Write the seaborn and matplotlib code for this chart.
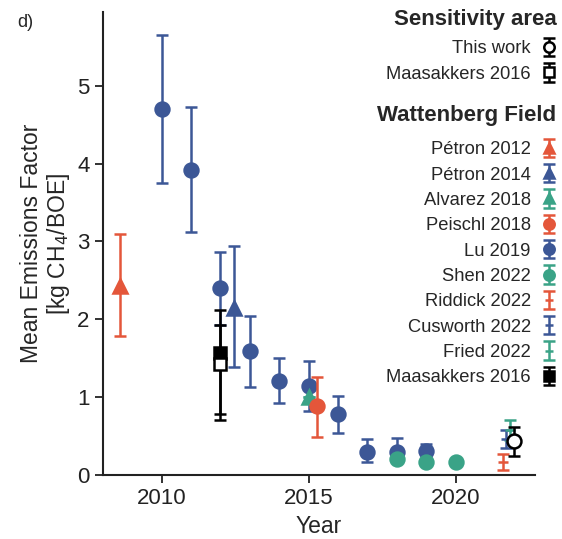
import numpy as np
import matplotlib
matplotlib.use("Agg")
import matplotlib.pyplot as plt
import seaborn as sns

# colours
red = "#E4563A"
blue = "#3C5796"
green = "#3AA387"

# Wattenberg Field: x position, mean, lower, upper
petron12_x = [2008.6]
petron12_y = [2.43]
petron12_lo = [1.78]
petron12_hi = [3.10]

petron14_x = [2012.45]
petron14_y = [2.15]
petron14_lo = [1.39]
petron14_hi = [2.94]

alvarez_x = [2015.0]
alvarez_y = [1.00]
alvarez_lo = [1.00]
alvarez_hi = [1.00]

peischl_x = [2015.3]
peischl_y = [0.88]
peischl_lo = [0.49]
peischl_hi = [1.26]

lu_x = [2010, 2011, 2012, 2013, 2014, 2015, 2016, 2017, 2018, 2019]
lu_y = [4.70, 3.92, 2.40, 1.59, 1.21, 1.14, 0.78, 0.30, 0.30, 0.31]
lu_lo = [3.75, 3.12, 1.92, 1.13, 0.92, 0.82, 0.54, 0.16, 0.16, 0.23]
lu_hi = [5.65, 4.73, 2.86, 2.04, 1.50, 1.46, 1.01, 0.46, 0.47, 0.40]

shen_x = [2018, 2019, 2020]
shen_y = [0.21, 0.16, 0.16]
shen_lo = [0.21, 0.16, 0.16]
shen_hi = [0.21, 0.16, 0.16]

riddick_x = [2021.6]
riddick_y = [0.17]
riddick_lo = [0.06]
riddick_hi = [0.27]

cusworth_x = [2021.7]
cusworth_y = [0.46]
cusworth_lo = [0.34]
cusworth_hi = [0.58]

fried_x = [2021.85]
fried_y = [0.58]
fried_lo = [0.45]
fried_hi = [0.71]

maas_w_x = [2012.0]
maas_w_y = [1.56]
maas_w_lo = [0.71]
maas_w_hi = [2.12]

# Sensitivity area
thiswork_x = [2022.0]
thiswork_y = [0.44]
thiswork_lo = [0.24]
thiswork_hi = [0.61]

maas_s_x = [2012.0]
maas_s_y = [1.42]
maas_s_lo = [0.78]
maas_s_hi = [1.92]

sns.set_style("ticks")
plt.rcParams["font.family"] = ["Liberation Sans", "DejaVu Sans"]

fig = plt.figure(figsize=(5.62, 5.39), dpi=100)
ax = fig.add_axes([0.183, 0.119, 0.769, 0.859])


def draw(x, y, lo, hi, color, marker, ms=10, mfc=None, label=None, z=3):
    y = np.array(y)
    yerr = [y - np.array(lo), np.array(hi) - y]
    return ax.errorbar(x, y, yerr=yerr, fmt=marker, color=color, ms=ms,
                       mfc=mfc if mfc else color, mec=color, mew=1.8,
                       ecolor=color, elinewidth=1.8, capsize=4, capthick=1.8,
                       label=label, zorder=z)


h_lu = draw(lu_x, lu_y, lu_lo, lu_hi, blue, "o", label="Lu 2019", z=2)
h_p12 = draw(petron12_x, petron12_y, petron12_lo, petron12_hi, red, "^", label="Pétron 2012")
h_p14 = draw(petron14_x, petron14_y, petron14_lo, petron14_hi, blue, "^", label="Pétron 2014")
h_alv = draw(alvarez_x, alvarez_y, alvarez_lo, alvarez_hi, green, "^", label="Alvarez 2018")
h_pei = draw(peischl_x, peischl_y, peischl_lo, peischl_hi, red, "o", label="Peischl 2018")
h_shen = draw(shen_x, shen_y, shen_lo, shen_hi, green, "o", label="Shen 2022")
h_rid = draw(riddick_x, riddick_y, riddick_lo, riddick_hi, red, "_", ms=7, label="Riddick 2022")
h_cus = draw(cusworth_x, cusworth_y, cusworth_lo, cusworth_hi, blue, "_", ms=7, label="Cusworth 2022")
h_fri = draw(fried_x, fried_y, fried_lo, fried_hi, green, "_", ms=7, label="Fried 2022")
h_mw = draw(maas_w_x, maas_w_y, maas_w_lo, maas_w_hi, "black", "s", ms=9, label="Maasakkers 2016", z=4)
h_tw = draw(thiswork_x, thiswork_y, thiswork_lo, thiswork_hi, "black", "o", mfc="white", label="This work", z=5)
h_ms = draw(maas_s_x, maas_s_y, maas_s_lo, maas_s_hi, "black", "s", ms=9, mfc="white", label="Maasakkers 2016", z=5)

ax.set_xlim(2008.0, 2022.7)
ax.set_ylim(0, 5.95)
ax.set_xticks([2010, 2015, 2020])
ax.set_yticks([0, 1, 2, 3, 4, 5])
ax.tick_params(labelsize=16, length=6, width=1.3, colors="#222222")
for s in ["left", "bottom"]:
    ax.spines[s].set_linewidth(1.5)
    ax.spines[s].set_color("#222222")
sns.despine(ax=ax)

ax.set_xlabel("Year", fontsize=16.5)
ax.set_ylabel("Mean Emissions Factor\n[kg CH$_4$/BOE]", fontsize=16.5,
              labelpad=4, linespacing=1.1)

fig.text(0.03, 0.95, "d)", fontsize=13)

leg_kw = dict(frameon=False, markerfirst=False, fontsize=13.2, handlelength=0.8,
              handletextpad=0.6, markerscale=0.75, labelspacing=0.455,
              borderaxespad=0, borderpad=0)
leg1 = fig.legend([h_tw, h_ms], ["This work", "Maasakkers 2016"],
                  loc="upper right", bbox_to_anchor=(0.99, 0.925), **leg_kw)
fig.text(0.99, 0.964, "Sensitivity area", ha="right", va="center",
         fontsize=16, fontweight="bold")

hs = [h_p12, h_p14, h_alv, h_pei, h_lu, h_shen, h_rid, h_cus, h_fri, h_mw]
leg2 = fig.legend(hs, [h.get_label() for h in hs],
                  loc="upper right", bbox_to_anchor=(0.99, 0.738), **leg_kw)
fig.text(0.99, 0.786, "Wattenberg Field", ha="right", va="center",
         fontsize=16, fontweight="bold")

fig.savefig("out.png", dpi=100)
